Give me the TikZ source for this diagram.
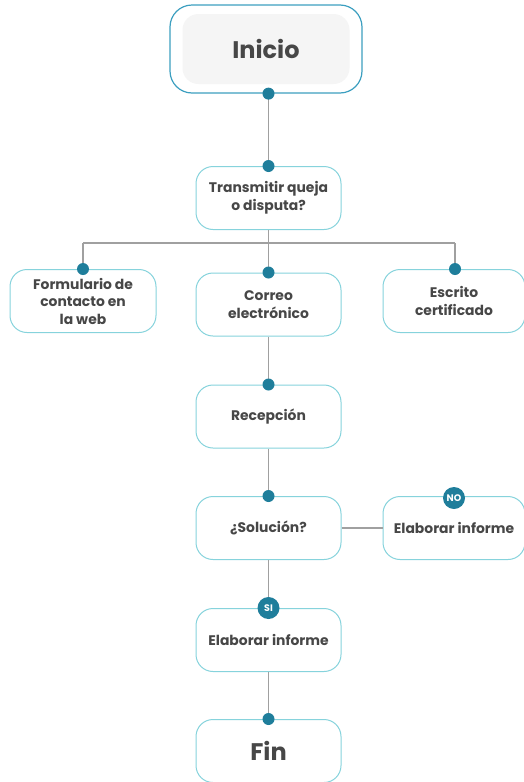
\documentclass[tikz,border=0pt]{standalone}
\usepackage{fontspec}
\setmainfont{Poppins}
\begin{document}
\begin{tikzpicture}[x=1pt,y=-1pt,
  box/.style={draw=boxc, line width=1pt, rounded corners=17pt, fill=white,
    minimum width=145pt, minimum height=63pt, align=center, text=txt,
    font=\fontsize{13.9}{17.5}\selectfont\bfseries, inner sep=2pt},
  dot/.style={circle, fill=dotc, inner sep=0pt, minimum size=12pt},
  badge/.style={circle, fill=dotc, inner sep=0pt, minimum size=22pt, text=white,
    font=\fontsize{9.5}{10}\selectfont\bfseries},
  conn/.style={draw=linec, line width=1.1pt}]
\definecolor{boxc}{HTML}{86D3DC}
\definecolor{dotc}{HTML}{1F7E9B}
\definecolor{linec}{HTML}{A0A0A0}
\definecolor{txt}{HTML}{474747}
\definecolor{outc}{HTML}{3C9FC0}
\useasboundingbox (0,0) rectangle (524,782);
% Inicio
\node[draw=outc, line width=1.2pt, rounded corners=22pt, fill=white, minimum width=192pt, minimum height=88pt] (start) at (266,49) {};
\node[fill=gray!8, rounded corners=16pt, minimum width=167pt, minimum height=70pt, text=txt,
  font=\fontsize{24}{28}\selectfont\bfseries] (startin) at (266,49) {Inicio};
\node[box] (q) at (268.5,198) {Transmitir queja\\o disputa?};
\node[box, minimum width=146pt] (form) at (83,301) {Formulario de\\contacto en\\la web};
\node[box] (mail) at (268.5,304.5) {Correo\\electrónico};
\node[box, minimum width=142pt] (cert) at (454,301) {Escrito\\certificado};
\node[box] (rec) at (268.5,416.5) {Recepción};
\node[box] (sol) at (268.5,528) {¿Solución?};
\node[box, minimum width=142pt] (no) at (454,528) {Elaborar informe};
\node[box] (si) at (268.5,640) {Elaborar informe};
\node[box, font=\fontsize{24}{28}\selectfont\bfseries] (fin) at (268.5,751) {Fin};
% connectors
\coordinate (s0) at (start.south -| q.north);
\coordinate (bus) at (268.5,243);
\coordinate (busL) at (83,243);
\coordinate (busR) at (455,243);
\draw[conn] (s0) -- (q.north);
\draw[conn] (q.south) -- (bus);
\draw[conn] (busL) -- (busR);
\draw[conn] (busL) -- (busL |- form.north);
\draw[conn] (bus) -- (mail.north);
\draw[conn] (busR) -- (busR |- cert.north);
\draw[conn] (mail.south) -- (rec.north);
\draw[conn] (rec.south) -- (sol.north);
\draw[conn] (sol.east) -- (no.west);
\draw[conn] (sol.south) -- (si.north);
\draw[conn] (si.south) -- (fin.north);
% dots
\node[dot] (d1) at (s0) {};
\node[dot] (d2) at (q.north) {};
\node[dot] (d3) at (busL |- form.north) {};
\node[dot] (d4) at (mail.north) {};
\node[dot] (d5) at (busR |- cert.north) {};
\node[dot] (d6) at (rec.north) {};
\node[dot] (d7) at (sol.north) {};
\node[dot] (d8) at (fin.north) {};
\node[badge] (bno) at ([yshift=-2pt]no.north) {NO};
\node[badge] (bsi) at (si.north) {SI};
\end{tikzpicture}
\end{document}
